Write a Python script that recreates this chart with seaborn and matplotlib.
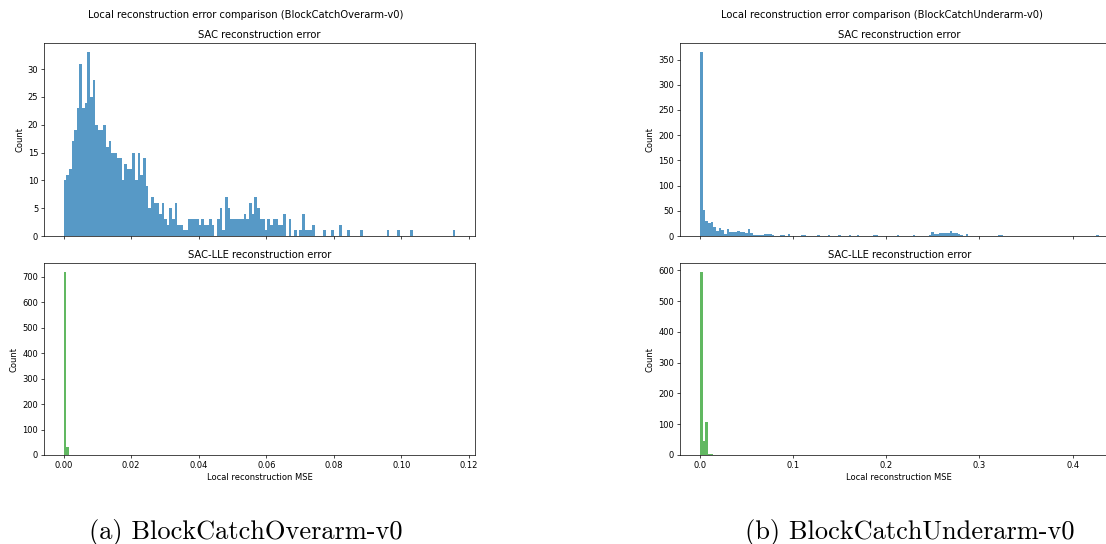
import numpy as np
import pandas as pd
import seaborn as sns
import matplotlib.pyplot as plt

# bin counts; in each panel SAC and SAC-LLE share the bin edges
over_lo, over_hi, over_nbins = 0.0, 0.116, 148
over_sac_head = [10, 11, 12, 17, 19, 23, 31, 23, 24, 33,
                 25, 28, 20, 19, 19, 20, 16, 17, 15, 15,
                 14, 14, 10, 13, 12, 12, 15, 10, 15, 11,
                 14, 9, 5, 7, 6, 6, 4, 6, 3, 2,
                 5, 3, 6, 2, 2, 1, 1, 3, 3, 3,
                 3, 2, 3, 2, 2, 3, 2, 0, 3, 5,
                 1, 7, 5, 3, 3, 3, 3, 3, 4, 3,
                 6, 4, 7, 5, 3, 3, 1, 3, 2, 3,
                 3, 2, 2, 4, 0, 3, 0, 1, 0, 1,
                 4, 1, 1, 1, 2]
over_sac_tail = {98: 1, 101: 1, 104: 2, 107: 1, 112: 1, 122: 1, 126: 1, 131: 1, 147: 1}
over_lle_head = [717, 33]
over_lle_tail = {}

under_lo, under_hi, under_nbins = 0.0, 0.428, 150
under_sac_head = [364, 51, 29, 26, 27, 18, 9, 16, 11, 4,
                  13, 8, 8, 7, 10, 8, 7, 5, 14, 6,
                  2, 1, 1, 2, 3, 3, 3, 1, 0, 0,
                  1, 1, 0, 3]
under_sac_tail = {38: 1, 39: 1, 44: 2, 48: 2, 52: 1, 56: 2, 59: 2, 65: 1, 66: 1,
                  74: 2, 80: 1, 86: 1, 87: 7, 88: 3, 89: 3, 90: 6, 91: 6, 92: 5,
                  93: 5, 94: 9, 95: 5, 96: 5, 97: 3, 98: 1, 100: 3, 112: 1, 113: 1,
                  149: 1}
under_lle_head = [593, 45, 107, 3, 2]
under_lle_tail = {}

env_names = ['BlockCatchOverarm-v0', 'BlockCatchUnderarm-v0']
captions = ['(a) BlockCatchOverarm-v0', '(b) BlockCatchUnderarm-v0']


def build_counts(nbins, head, tail):
    counts = np.zeros(nbins)
    counts[:len(head)] = head
    for k, v in tail.items():
        counts[k] = v
    return counts


plt.rcParams.update({
    'font.size': 6,
    'axes.titlesize': 7.2,
    'axes.labelsize': 6,
    'xtick.labelsize': 6,
    'ytick.labelsize': 6,
    'axes.linewidth': 0.5,
    'xtick.major.size': 2.1,
    'ytick.major.size': 2.1,
    'xtick.major.width': 0.5,
    'ytick.major.width': 0.5,
    'xtick.major.pad': 2.1,
    'ytick.major.pad': 2.1,
    'axes.titlepad': 3.6,
    'axes.labelpad': 2.4,
})

W, H = 1106, 544
fig = plt.figure(figsize=(W / 100, H / 100), dpi=100)


def px_rect(left, top, right, bottom):
    return [left / W, 1 - bottom / H, (right - left) / W, (bottom - top) / H]


def draw_panel(left, right, lo, hi, nbins, sac, lle, env, title_x, caption, cap_x):
    edges = np.linspace(lo, hi, nbins + 1)
    df = pd.DataFrame({'mse': (edges[:-1] + edges[1:]) / 2, 'sac': sac, 'lle': lle})
    ax_bot = fig.add_axes(px_rect(left, 263.3, right, 455))
    ax_top = fig.add_axes(px_rect(left, 43.3, right, 236), sharex=ax_bot)
    sns.histplot(data=df, x='mse', weights='sac', bins=nbins, binrange=(lo, hi),
                 ax=ax_top, color='C0', linewidth=0)
    sns.histplot(data=df, x='mse', weights='lle', bins=nbins, binrange=(lo, hi),
                 ax=ax_bot, color='C2', linewidth=0)
    ax_top.set_title('SAC reconstruction error')
    ax_bot.set_title('SAC-LLE reconstruction error')
    ax_top.tick_params(labelbottom=False)
    ax_top.set_xlabel('')
    ax_bot.set_xlabel('Local reconstruction MSE')
    fig.text(title_x / W, 1 - 15 / H, f'Local reconstruction error comparison ({env})',
             ha='center', va='center', fontsize=7.2)
    fig.text(cap_x / W, 1 - 539 / H, caption, ha='center', va='baseline',
             fontsize=19, family=['cmr10', 'DejaVu Serif'])


draw_panel(44, 475, over_lo, over_hi, over_nbins,
           build_counts(over_nbins, over_sac_head, over_sac_tail),
           build_counts(over_nbins, over_lle_head, over_lle_tail),
           env_names[0], 246, captions[0], 246)
draw_panel(680, 1118.6, under_lo, under_hi, under_nbins,
           build_counts(under_nbins, under_sac_head, under_sac_tail),
           build_counts(under_nbins, under_lle_head, under_lle_tail),
           env_names[1], 882, captions[1], 910)

fig.savefig('out.png', dpi=100)
